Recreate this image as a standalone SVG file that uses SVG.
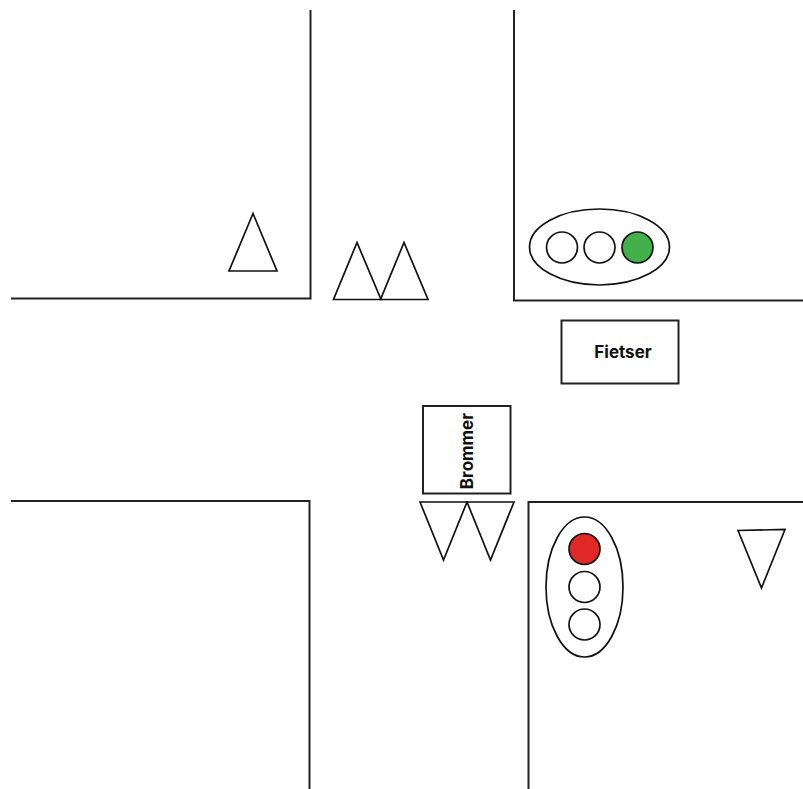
<svg xmlns="http://www.w3.org/2000/svg" width="803" height="789" viewBox="0 0 803 789">
<style>
.l{fill:none;stroke:#222;stroke-width:2}
.b{fill:#fff;stroke:#222;stroke-width:2}
.s{fill:#fff;stroke:#111;stroke-width:1.700}
.t{font-family:"Inter","Lato","Liberation Sans",sans-serif;font-weight:700;font-size:17px;fill:#111}
</style>
<rect width="803" height="789" fill="#fff"/>
<g id="roads">
<path class="l" d="M11 298.500H310.500V10"/>
<path class="l" d="M514 10V300.500H803"/>
<path class="l" d="M11 501H309.500V789"/>
<path class="l" d="M528.500 789V502H803"/>
</g>
<g id="triangle-1"><path class="s" d="M253 213.500L229 271H277Z"/></g>
<g id="triangle-2"><path class="s" d="M357 242.500L333.500 299.500H381Z"/></g>
<g id="triangle-3"><path class="s" d="M404 242.500L380.500 299.500H428Z"/></g>
<g id="triangle-4"><path class="s" d="M420 502L443.500 560L467 502Z"/></g>
<g id="triangle-5"><path class="s" d="M467 502L490.500 560L514 502Z"/></g>
<g id="triangle-6"><path class="s" d="M738 530.500L761.500 588L785 529.500Z"/></g>
<g id="light-green">
<ellipse class="s" cx="599.500" cy="247" rx="70" ry="38"/>
<circle class="s" cx="562" cy="247.500" r="15.500"/>
<circle class="s" cx="599.500" cy="247.500" r="15.500"/>
<circle cx="637.500" cy="247.500" r="15.500" fill="#43b14b" stroke="#111" stroke-width="1.700"/>
</g>
<g id="light-red">
<ellipse class="s" cx="584.500" cy="587" rx="38.500" ry="70"/>
<circle cx="584.500" cy="549" r="15.500" fill="#e02826" stroke="#111" stroke-width="1.700"/>
<circle class="s" cx="584.500" cy="587" r="15.500"/>
<circle class="s" cx="584.500" cy="624.500" r="15.500"/>
</g>
<g id="fietser">
<rect class="b" x="561.500" y="320.500" width="117" height="63"/>
<text class="t" x="623" y="358" text-anchor="middle">Fietser</text>
</g>
<g id="brommer">
<rect class="b" x="423" y="406" width="87.500" height="87.500"/>
<text class="t" transform="translate(472.500 451) rotate(-90)" text-anchor="middle">Brommer</text>
</g>
<g id="connectors"></g>
</svg>
